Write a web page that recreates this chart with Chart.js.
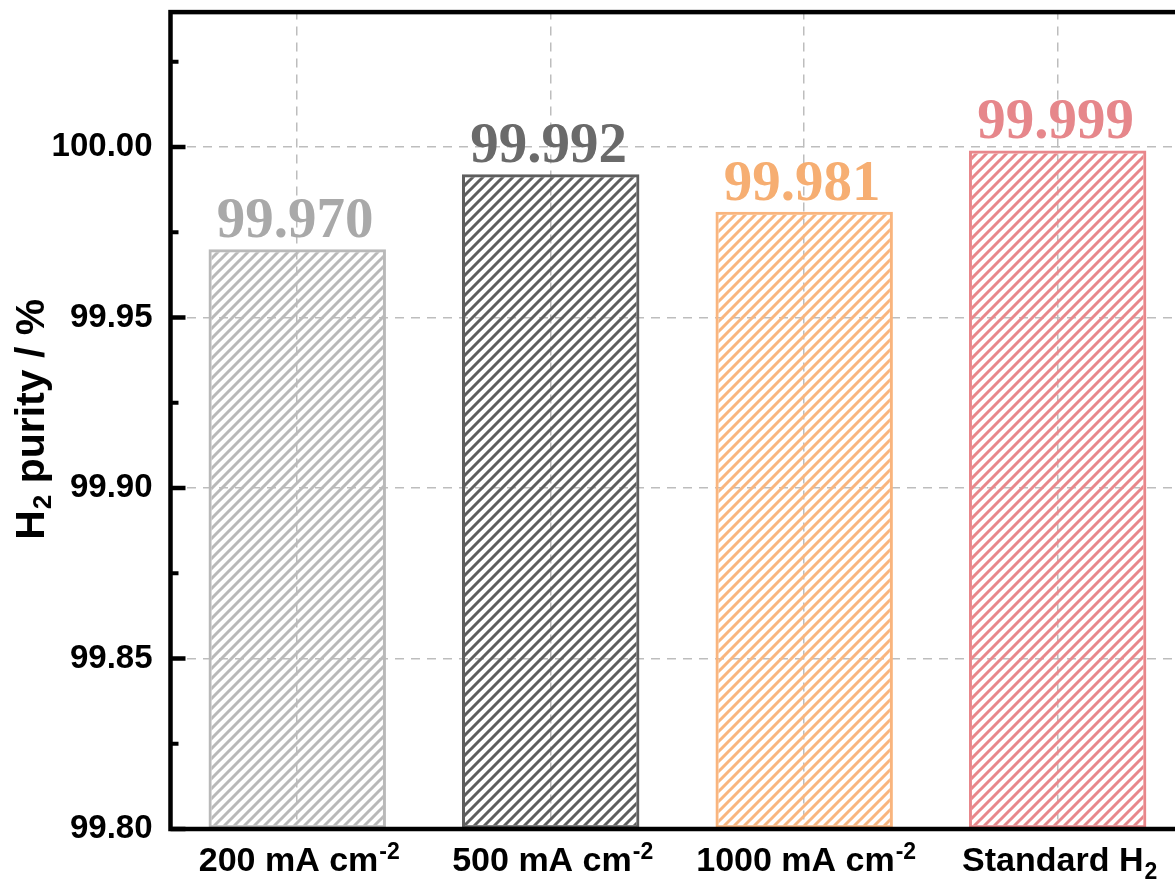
<!DOCTYPE html>
<html>
<head>
<meta charset="utf-8">
<script src="https://cdn.jsdelivr.net/npm/chart.js@4.4.1/dist/chart.umd.min.js"></script>
<style>
  html, body { margin: 0; padding: 0; background: #fff; }
  /* the plot frame runs slightly past the right edge of the view */
  #view { width: 1175px; height: 884px; overflow: hidden; position: relative; }
  #chart { display: block; position: absolute; left: 0; top: 0; }
</style>
</head>
<body>
<div id="view"><canvas id="chart" width="1190" height="884"></canvas></div>
<script>
// Category labels (main text plus super/subscript parts)
const labelMain = ['200 mA cm', '500 mA cm', '1000 mA cm', 'Standard H'];
const labelSup  = ['-2', '-2', '-2', ''];
const labelSub  = ['', '', '', '2'];

// Measured hydrogen purity (%)
const purity = [99.970, 99.992, 99.981, 99.999];

// Y axis ticks
const yMajorTicks = [99.80, 99.85, 99.90, 99.95, 100.00];
const yMinorTicks = [99.825, 99.875, 99.925, 99.975, 100.025];

// Axis title parts
const yTitleMain = 'H';
const yTitleSub = '2';
const yTitleRest = ' purity / %';

// Styling
const barColors   = ['#b9b9b9', '#5e5e5e', '#f9b57e', '#e8878b'];
const valueColors = ['#a9a9a9', '#6a6a6a', '#f6ae72', '#e6878b'];
const SANS = '"Liberation Sans", Arial, sans-serif';
const SERIF = '"Liberation Serif", "Times New Roman", serif';

function hatch(color) {
  const size = 10;
  const c = document.createElement('canvas');
  c.width = size; c.height = size;
  const g = c.getContext('2d');
  g.strokeStyle = color;
  g.lineWidth = 3;
  g.lineCap = 'square';
  g.beginPath();
  g.moveTo(-2, size + 2); g.lineTo(size + 2, -2);
  g.moveTo(-size / 2 - 2, size / 2 + 2); g.lineTo(size / 2 + 2, -size / 2 - 2);
  g.moveTo(size / 2 - 2, size * 1.5 + 2); g.lineTo(size * 1.5 + 2, size / 2 - 2);
  g.stroke();
  return g.createPattern(c, 'repeat');
}

// Frame, inward ticks and scripted labels
const decorations = {
  id: 'decorations',
  afterDatasetsDraw(chart) {
    const { ctx } = chart;
    // value labels above the bars
    const meta = chart.getDatasetMeta(0);
    ctx.save();
    ctx.font = 'bold 57px ' + SERIF;
    ctx.textAlign = 'center';
    ctx.textBaseline = 'alphabetic';
    meta.data.forEach((bar, i) => {
      ctx.fillStyle = valueColors[i];
      ctx.fillText(purity[i].toFixed(3), bar.x - 2, bar.y - 12);
    });
    ctx.restore();
  },
  afterDraw(chart) {
    const { ctx, chartArea: a, scales } = chart;
    const y = scales.y, x = scales.x;
    ctx.save();
    // plot frame
    ctx.strokeStyle = '#000';
    ctx.lineWidth = 4.5;
    ctx.strokeRect(a.left, a.top + 1.5, a.right - a.left, a.bottom - a.top - 1.5);
    // inward ticks on the left axis
    ctx.lineCap = 'butt';
    yMajorTicks.forEach(v => {
      const py = y.getPixelForValue(v);
      ctx.lineWidth = 4.5;
      ctx.beginPath(); ctx.moveTo(a.left, py); ctx.lineTo(a.left + 15, py); ctx.stroke();
    });
    yMinorTicks.forEach(v => {
      const py = y.getPixelForValue(v);
      ctx.lineWidth = 4;
      ctx.beginPath(); ctx.moveTo(a.left, py); ctx.lineTo(a.left + 8, py); ctx.stroke();
    });

    // category labels with super/subscripts
    ctx.fillStyle = '#000';
    ctx.textBaseline = 'alphabetic';
    ctx.textAlign = 'left';
    const mainFont = 'bold 34px ' + SANS;
    const smallFont = 'bold 23px ' + SANS;
    labelMain.forEach((txt, i) => {
      ctx.font = mainFont;
      const wMain = ctx.measureText(txt).width;
      ctx.font = smallFont;
      const extra = labelSup[i] || labelSub[i];
      const wExtra = extra ? ctx.measureText(extra).width + 1 : 0;
      const cx = x.getPixelForValue(i);
      const x0 = cx - (wMain + wExtra) / 2 + 2;
      const base = 871;
      ctx.font = mainFont;
      ctx.fillText(txt, x0, base);
      ctx.font = smallFont;
      if (labelSup[i]) ctx.fillText(labelSup[i], x0 + wMain + 1, base - 12);
      if (labelSub[i]) ctx.fillText(labelSub[i], x0 + wMain + 1, base + 8);
    });

    // rotated y axis title
    ctx.save();
    ctx.translate(44, (a.top + a.bottom) / 2);
    ctx.rotate(-Math.PI / 2);
    const tFont = 'bold 41px ' + SANS;
    const tSmall = 'bold 26px ' + SANS;
    ctx.font = tFont;
    const w1 = ctx.measureText(yTitleMain).width;
    const w3 = ctx.measureText(yTitleRest).width;
    ctx.font = tSmall;
    const w2 = ctx.measureText(yTitleSub).width;
    let tx = -(w1 + w2 + w3) / 2;
    ctx.font = tFont; ctx.fillText(yTitleMain, tx, 0); tx += w1;
    ctx.font = tSmall; ctx.fillText(yTitleSub, tx + 1, 7); tx += w2 + 1;
    ctx.font = tFont; ctx.fillText(yTitleRest, tx, 0);
    ctx.restore();

    ctx.restore();
  }
};

new Chart(document.getElementById('chart'), {
  type: 'bar',
  data: {
    labels: labelMain.map((m, i) => m + labelSup[i] + labelSub[i]),
    datasets: [{
      data: purity,
      base: 99.8,
      backgroundColor: barColors.map(hatch),
      borderColor: barColors,
      borderWidth: 3,
      borderSkipped: false,
      barPercentage: 0.7,
      categoryPercentage: 1.0
    }]
  },
  options: {
    responsive: false,
    animation: false,
    devicePixelRatio: 1,
    layout: { padding: { top: 10.6, right: 5.6, left: 0, bottom: 0 } },
    plugins: { legend: { display: false }, tooltip: { enabled: false } },
    scales: {
      x: {
        offset: true,
        grid: { offset: false, drawTicks: false, color: '#bdbdbd', lineWidth: 1.5 },
        border: { display: false, dash: [9, 7] },
        ticks: { display: false },
        afterFit(s) { s.height = 55; s.paddingLeft = 0; s.paddingRight = 0; }
      },
      y: {
        min: 99.8,
        max: 100.04,
        afterBuildTicks(s) { s.ticks = yMajorTicks.map(v => ({ value: v })); },
        grid: { drawTicks: false, color: '#bdbdbd', lineWidth: 1.5 },
        border: { display: false, dash: [9, 7] },
        ticks: {
          padding: 18,
          color: '#000',
          font: { family: SANS, size: 33, weight: 'bold' },
          callback: v => Number(v).toFixed(2)
        },
        afterFit(s) { s.width = 170.5; s.paddingTop = 0; s.paddingBottom = 0; }
      }
    }
  },
  plugins: [decorations]
});
</script>
</body>
</html>
